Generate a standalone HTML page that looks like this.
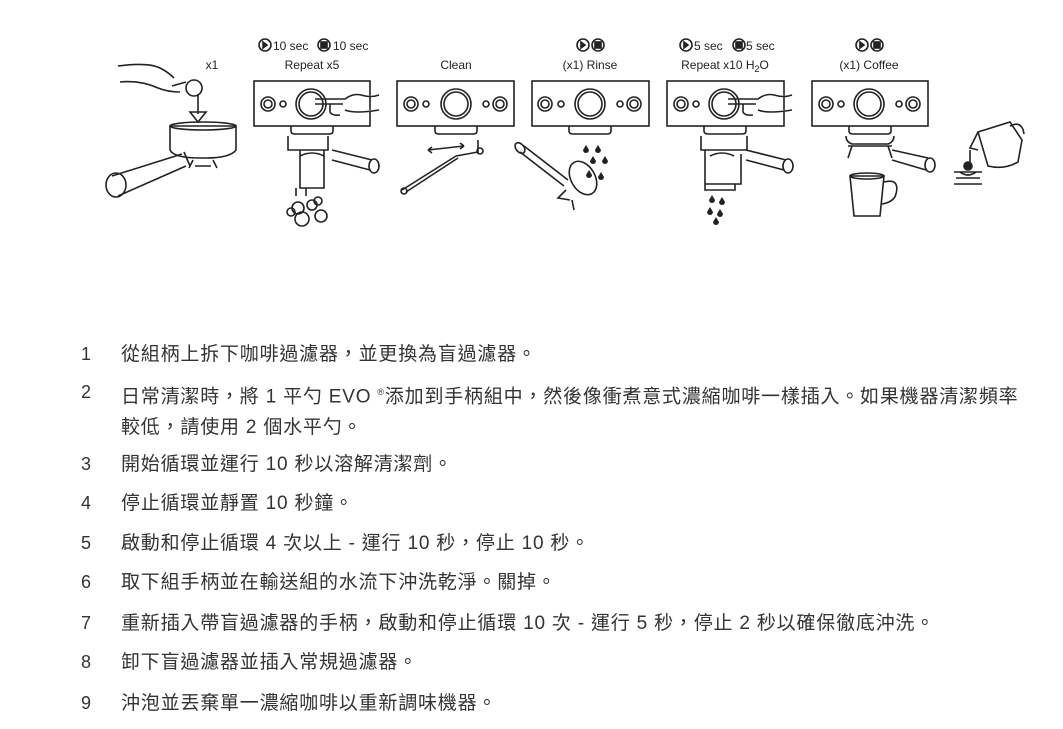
<!DOCTYPE html>
<html><head><meta charset="utf-8"><style>
body{margin:0;width:1063px;height:729px;background:#fff;position:relative;overflow:hidden;font-family:"Liberation Sans","Noto Sans CJK TC",sans-serif;color:#333}
svg{position:absolute;left:0;top:0}
.r{position:absolute;left:0;font-size:19px;line-height:31px;white-space:nowrap;letter-spacing:0.8px}
.r .n{position:absolute;left:81px;letter-spacing:0;font-size:18px}
.r .t{position:absolute;left:121px}
</style></head><body>
<svg width="1063" height="300" viewBox="0 0 1063 300" fill="none" stroke="#222" stroke-width="1.6" font-family="Liberation Sans, sans-serif">
<g fill="#222" stroke="none" font-size="12" text-anchor="middle">
<text x="212" y="69">x1</text>
<text x="312" y="69">Repeat x5</text>
<text x="456" y="69">Clean</text>
<text x="590" y="69">(x1) Rinse</text>
<text x="725" y="69">Repeat x10 H<tspan font-size="9" dy="3">2</tspan><tspan dy="-3">O</tspan></text>
<text x="869" y="69">(x1) Coffee</text>
</g>
<g fill="#222" stroke="none" font-size="12">
<text x="273" y="50">10 sec</text><text x="333" y="50">10 sec</text>
<text x="694" y="50">5 sec</text><text x="746" y="50">5 sec</text>
</g>
<g>
<circle cx="265" cy="45" r="6"/><path d="M263 42l4 3-4 3z" fill="#222"/>
<circle cx="324" cy="45" r="6"/><rect x="321" y="42" width="6" height="6" fill="#222"/>
<circle cx="583" cy="45" r="6"/><path d="M581 42l4 3-4 3z" fill="#222"/>
<circle cx="598" cy="45" r="6"/><rect x="595" y="42" width="6" height="6" fill="#222"/>
<circle cx="686" cy="45" r="6"/><path d="M684 42l4 3-4 3z" fill="#222"/>
<circle cx="739" cy="45" r="6"/><rect x="736" y="42" width="6" height="6" fill="#222"/>
<circle cx="862" cy="45" r="6"/><path d="M860 42l4 3-4 3z" fill="#222"/>
<circle cx="877" cy="45" r="6"/><rect x="874" y="42" width="6" height="6" fill="#222"/>
</g>
<rect x="254" y="81" width="116" height="45"/>
<circle cx="268" cy="104" r="7"/><circle cx="268" cy="104" r="4"/><circle cx="283" cy="104" r="3"/>
<circle cx="311" cy="104" r="15"/><circle cx="311" cy="104" r="12"/>
<path d="M291 126v5q0 3 4 3h34q4 0 4-3v-5"/>
<rect x="397" y="81" width="117" height="45"/>
<circle cx="411" cy="104" r="7"/><circle cx="411" cy="104" r="4"/><circle cx="426" cy="104" r="3"/>
<circle cx="456" cy="104" r="15"/><circle cx="456" cy="104" r="12"/>
<circle cx="486" cy="104" r="3"/><circle cx="500" cy="104" r="7"/><circle cx="500" cy="104" r="4"/>
<path d="M435 126v5q0 3 4 3h34q4 0 4-3v-5"/>
<rect x="532" y="81" width="117" height="45"/>
<circle cx="545" cy="104" r="7"/><circle cx="545" cy="104" r="4"/><circle cx="561" cy="104" r="3"/>
<circle cx="590" cy="104" r="15"/><circle cx="590" cy="104" r="12"/>
<circle cx="620" cy="104" r="3"/><circle cx="634" cy="104" r="7"/><circle cx="634" cy="104" r="4"/>
<path d="M569 126v5q0 3 4 3h34q4 0 4-3v-5"/>
<rect x="667" y="81" width="117" height="45"/>
<circle cx="681" cy="104" r="7"/><circle cx="681" cy="104" r="4"/><circle cx="696" cy="104" r="3"/>
<circle cx="724" cy="104" r="15"/><circle cx="724" cy="104" r="12"/>
<path d="M704 126v5q0 3 4 3h34q4 0 4-3v-5"/>
<rect x="812" y="81" width="116" height="45"/>
<circle cx="826" cy="104" r="7"/><circle cx="826" cy="104" r="4"/><circle cx="841" cy="104" r="3"/>
<circle cx="869" cy="104" r="15"/><circle cx="869" cy="104" r="12"/>
<circle cx="899" cy="104" r="3"/><circle cx="913" cy="104" r="7"/><circle cx="913" cy="104" r="4"/>
<path d="M849 126v5q0 3 4 3h34q4 0 4-3v-5"/>
<path d="M315 99h30q8-6 16-4 10 3 18 0M315 104h28M330 104v8q2 4 10 3M345 110q10 4 34 0" fill="#fff"/>
<path d="M728 99h30q8-6 16-4 10 3 18 0M728 104h28M743 104v8q2 4 10 3M758 110q10 4 34 0" fill="#fff"/>
<path d="M118 66q30-4 42 2 8 4 14 10M120 82q20-2 38 6 10 4 22 4M172 86l14-4"/>
<circle cx="194" cy="88" r="8"/>
<path d="M198 94v20M190 112l8 10 8-10z"/>
<path d="M170 126h66v24q-6 8-30 8h-6q-26 0-30-8z"/><ellipse cx="203" cy="126" rx="33" ry="4"/>
<path d="M112 176l70-22M118 196l68-30M184 152l6 14"/><ellipse cx="116" cy="185" rx="10" ry="12"/>
<path d="M193 160l-4 8M213 160l4 8M195 166h16"/>
<path d="M288 136v14h12v38h24v-38h4M292 150h36v-14"/>
<path d="M332 150l40 10M332 160l38 10"/><ellipse cx="374" cy="166" rx="5" ry="7"/>
<path d="M300 156q12-6 24 0"/>
<path d="M296 188v8M306 188v8"/>
<circle cx="298" cy="208" r="6"/><circle cx="312" cy="205" r="5"/><circle cx="321" cy="216" r="6"/><circle cx="302" cy="219" r="7"/><circle cx="318" cy="201" r="4"/><circle cx="291" cy="212" r="4"/>
<path d="M428 150l36 -4M428 150l4-3M428 150l4 3M464 146l-4-3M464 146l-4 3"/>
<path d="M402 190l54-34M406 192l52-34M456 156l22-4M478 140v14"/><circle cx="404" cy="191" r="3"/><circle cx="480" cy="151" r="3"/>
<path d="M524 146l44 34M520 152l44 34"/><ellipse cx="520" cy="148" rx="4" ry="6" transform="rotate(-40 520 148)"/>
<ellipse cx="583" cy="178" rx="12" ry="18" transform="rotate(-30 583 178)"/>
<path d="M566 190l-8 8 12 2M572 200l2 10"/>
<g fill="#222" stroke="none">
<path d="M586 145l3 5a3 3 0 1 1-6 0z"/><path d="M598 145l3 5a3 3 0 1 1-6 0z"/><path d="M593 156l3 5a3 3 0 1 1-6 0z"/><path d="M605 156l3 5a3 3 0 1 1-6 0z"/><path d="M589 170l3 5a3 3 0 1 1-6 0z"/><path d="M601 172l3 5a3 3 0 1 1-6 0z"/>
<path d="M712 195l3 5a3 3 0 1 1-6 0z"/><path d="M722 197l3 5a3 3 0 1 1-6 0z"/><path d="M710 207l3 5a3 3 0 1 1-6 0z"/><path d="M720 209l3 5a3 3 0 1 1-6 0z"/><path d="M716 217l3 5a3 3 0 1 1-6 0z"/>
</g>
<path d="M701 136v14h4v34h36v-30M705 150h42v-14M705 184h30v6h-30z"/>
<path d="M710 156q12-6 24 0M746 150l40 10M746 160l38 10"/><ellipse cx="788" cy="166" rx="5" ry="7"/>
<path d="M846 136q0 6 6 8h36q6-2 6-8M848 146h44M852 146l-4 12M888 146l4 12M892 150l36 8M892 160l34 10"/><ellipse cx="930" cy="165" rx="5" ry="7"/>
<path d="M850 176h34l-4 40h-26z"/><ellipse cx="867" cy="176" rx="17" ry="3"/><path d="M884 182q16-4 12 12-2 8-14 10"/>
<path d="M978 132l32-10 12 18-4 22q-14 8-30 4zM978 132l-8 16 8 2M1010 126q12-6 14 8"/>
<path d="M970 150v12"/><ellipse cx="968" cy="166" rx="4" ry="4" fill="#222"/>
<path d="M954 172h28M956 178h24M954 184h28M960 172q8 6 16 0"/>
</svg>
<div class="r" style="top:339px"><span class="n">1</span><span class="t">從組柄上拆下咖啡過濾器，並更換為盲過濾器。</span></div>
<div class="r" style="top:377px"><span class="n">2</span><span class="t">日常清潔時，將 1 平勺 EVO <sup style="font-size:9px">®</sup>添加到手柄組中，然後像衝煮意式濃縮咖啡一樣插入。如果機器清潔頻率<br>較低，請使用 2 個水平勺。</span></div>
<div class="r" style="top:449px"><span class="n">3</span><span class="t">開始循環並運行 10 秒以溶解清潔劑。</span></div>
<div class="r" style="top:488px"><span class="n">4</span><span class="t">停止循環並靜置 10 秒鐘。</span></div>
<div class="r" style="top:528px"><span class="n">5</span><span class="t">啟動和停止循環 4 次以上 - 運行 10 秒，停止 10 秒。</span></div>
<div class="r" style="top:567px"><span class="n">6</span><span class="t">取下組手柄並在輸送組的水流下沖洗乾淨。關掉。</span></div>
<div class="r" style="top:608px"><span class="n">7</span><span class="t">重新插入帶盲過濾器的手柄，啟動和停止循環 10 次 - 運行 5 秒，停止 2 秒以確保徹底沖洗。</span></div>
<div class="r" style="top:647px"><span class="n">8</span><span class="t">卸下盲過濾器並插入常規過濾器。</span></div>
<div class="r" style="top:688px"><span class="n">9</span><span class="t">沖泡並丟棄單一濃縮咖啡以重新調味機器。</span></div>
</body></html>
